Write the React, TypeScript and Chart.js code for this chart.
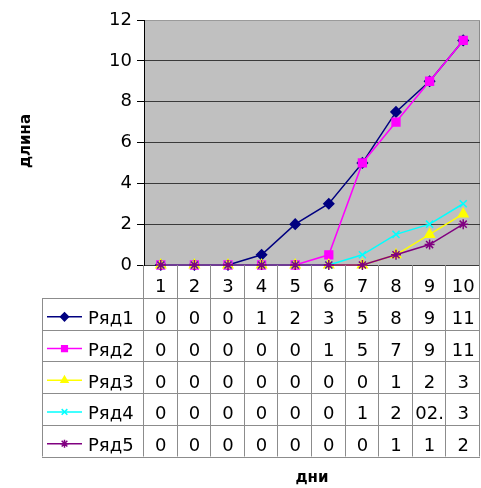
import { useEffect, useRef } from 'react';
import { Chart, registerables } from 'chart.js';
import { drawPoint } from 'chart.js/helpers';

Chart.register(...registerables);

const categories = ['1', '2', '3', '4', '5', '6', '7', '8', '9', '10'];
const seriesNames = ['Ряд1', 'Ряд2', 'Ряд3', 'Ряд4', 'Ряд5'];
const series1 = [0, 0, 0, 0.5, 2, 3, 5, 7.5, 9, 11];
const series2 = [0, 0, 0, 0, 0, 0.5, 5, 7, 9, 11];
const series3 = [0, 0, 0, 0, 0, 0, 0, 0.5, 1.5, 2.5];
const series4 = [0, 0, 0, 0, 0, 0, 0.5, 1.5, 2, 3];
const series5 = [0, 0, 0, 0, 0, 0, 0, 0.5, 1, 2];
const table1 = ['0', '0', '0', '1', '2', '3', '5', '8', '9', '11'];
const table2 = ['0', '0', '0', '0', '0', '1', '5', '7', '9', '11'];
const table3 = ['0', '0', '0', '0', '0', '0', '0', '1', '2', '3'];
const table4 = ['0', '0', '0', '0', '0', '0', '1', '2', '02.', '3'];
const table5 = ['0', '0', '0', '0', '0', '0', '0', '1', '1', '2'];
const yTicks = [0, 2, 4, 6, 8, 10, 12];
const xTitle = 'дни';
const yTitle = 'длина';

const seriesValues = [series1, series2, series3, series4, series5];
const tableRows = [table1, table2, table3, table4, table5];
const seriesColors = ['#000080', '#FF00FF', '#FFFF00', '#00FFFF', '#800080'];
const seriesMarkers = ['rectRot', 'rect', 'triangle', 'crossRot', 'star'];
const markerRadius = [5, 5.5, 5.5, 5, 5];

const FONT = '"DejaVu Sans", sans-serif';

export default function App() {
  const canvasRef = useRef<HTMLCanvasElement | null>(null);

  useEffect(() => {
    const canvas = canvasRef.current;
    if (!canvas) return;

    const bgPlugin = {
      id: 'plotBg',
      beforeDraw(chart: any) {
        const { ctx, chartArea } = chart;
        ctx.save();
        ctx.fillStyle = '#C0C0C0';
        ctx.fillRect(chartArea.left, chartArea.top, chartArea.right - chartArea.left, chartArea.bottom - chartArea.top);
        ctx.strokeStyle = '#8a8a8a';
        ctx.lineWidth = 1;
        ctx.beginPath();
        ctx.moveTo(Math.round(chartArea.right) - 0.5, chartArea.top);
        ctx.lineTo(Math.round(chartArea.right) - 0.5, chartArea.bottom);
        ctx.stroke();
        ctx.restore();
      },
    };

    const tablePlugin = {
      id: 'dataTable',
      afterDraw(chart: any) {
        const { ctx, chartArea } = chart;
        const xs = chart.scales.x;
        const step = xs.getPixelForValue(1) - xs.getPixelForValue(0);
        const top = chartArea.bottom;
        const headerBottom = top + 33;
        const rowH = 31.7;
        const tableBottom = headerBottom + rowH * tableRows.length;
        const legendLeft = 42;
        const n = categories.length;

        ctx.save();
        ctx.strokeStyle = '#8c8c8c';
        ctx.lineWidth = 1;
        ctx.beginPath();
        for (let i = 0; i <= n; i++) {
          const xb = i < n ? xs.getPixelForValue(i) - step / 2 : xs.getPixelForValue(n - 1) + step / 2;
          const px = Math.round(xb) - 0.5;
          ctx.moveTo(px, top);
          ctx.lineTo(px, tableBottom);
        }
        ctx.moveTo(legendLeft + 0.5, headerBottom);
        ctx.lineTo(legendLeft + 0.5, tableBottom);
        for (let r = 0; r <= tableRows.length; r++) {
          const y = Math.round(headerBottom + r * rowH) + 0.5;
          ctx.moveTo(legendLeft, y);
          ctx.lineTo(xs.getPixelForValue(n - 1) + step / 2, y);
        }
        ctx.stroke();

        ctx.fillStyle = '#000';
        ctx.font = `18px ${FONT}`;
        ctx.textAlign = 'center';
        ctx.textBaseline = 'alphabetic';
        for (let i = 0; i < n; i++) {
          ctx.fillText(categories[i], xs.getPixelForValue(i), top + 16.5 + 10.5);
        }
        tableRows.forEach((row, r) => {
          const cy = headerBottom + r * rowH + rowH / 2;
          ctx.textAlign = 'center';
          for (let i = 0; i < n; i++) {
            ctx.fillText(row[i], xs.getPixelForValue(i), cy + 10.5);
          }
          ctx.strokeStyle = seriesColors[r];
          ctx.lineWidth = 1.5;
          ctx.beginPath();
          ctx.moveTo(47, cy + 3);
          ctx.lineTo(82, cy + 3);
          ctx.stroke();
          ctx.fillStyle = seriesColors[r];
          drawPoint(ctx, { pointStyle: seriesMarkers[r], radius: 4, rotation: 0, borderWidth: 1.5 }, 64.5, cy + 3);
          ctx.fillStyle = '#000';
          ctx.textAlign = 'left';
          ctx.fillText(seriesNames[r], 88, cy + 10.5);
        });

        ctx.font = `bold 15px ${FONT}`;
        ctx.textAlign = 'center';
        ctx.textBaseline = 'middle';
        ctx.fillText(xTitle, (xs.getPixelForValue(0) + xs.getPixelForValue(n - 1)) / 2, 478);
        ctx.save();
        ctx.translate(26, 141);
        ctx.rotate(-Math.PI / 2);
        ctx.fillText(yTitle, 0, 0);
        ctx.restore();
        ctx.restore();
      },
    };

    const chart = new Chart(canvas, {
      type: 'line',
      data: {
        labels: categories,
        datasets: seriesValues.map((vals, i) => ({
          label: seriesNames[i],
          data: vals,
          borderColor: seriesColors[i],
          backgroundColor: seriesColors[i],
          pointBorderColor: seriesColors[i],
          pointBackgroundColor: seriesColors[i],
          pointStyle: seriesMarkers[i] as any,
          pointRadius: markerRadius[i],
          pointBorderWidth: 1.5,
          borderWidth: 1.5,
          tension: 0,
          fill: false,
          clip: false as any,
          order: seriesValues.length - i,
        })),
      },
      options: {
        responsive: false,
        animation: false,
        devicePixelRatio: 1,
        layout: { autoPadding: false, padding: { left: 0, top: 20, right: 1, bottom: 223 } },
        plugins: { legend: { display: false }, tooltip: { enabled: false }, title: { display: false } },
        scales: {
          x: {
            type: 'category',
            display: false,
            offset: true,
          },
          y: {
            min: 0,
            max: 12,
            afterFit(scale: any) {
              scale.width = 144;
            },
            afterBuildTicks(scale: any) {
              scale.ticks = yTicks.map((v) => ({ value: v }));
            },
            ticks: {
              font: { family: FONT, size: 18 },
              color: '#000',
              padding: 5,
            },
            grid: {
              color: (c: any) => (c.tick && c.tick.value === 12 ? '#9a9a9a' : '#3a3a3a'),
              lineWidth: 1,
              drawTicks: true,
              tickLength: 7,
              tickColor: '#000',
            },
            border: { display: true, color: '#000', width: 1 },
          },
        },
      },
      plugins: [bgPlugin, tablePlugin],
    });

    return () => chart.destroy();
  }, []);

  return (
    <div style={{ position: 'fixed', left: 0, top: 0, width: 481, height: 488, background: '#fff' }}>
      <canvas ref={canvasRef} width={481} height={488} style={{ display: 'block' }} />
    </div>
  );
}
